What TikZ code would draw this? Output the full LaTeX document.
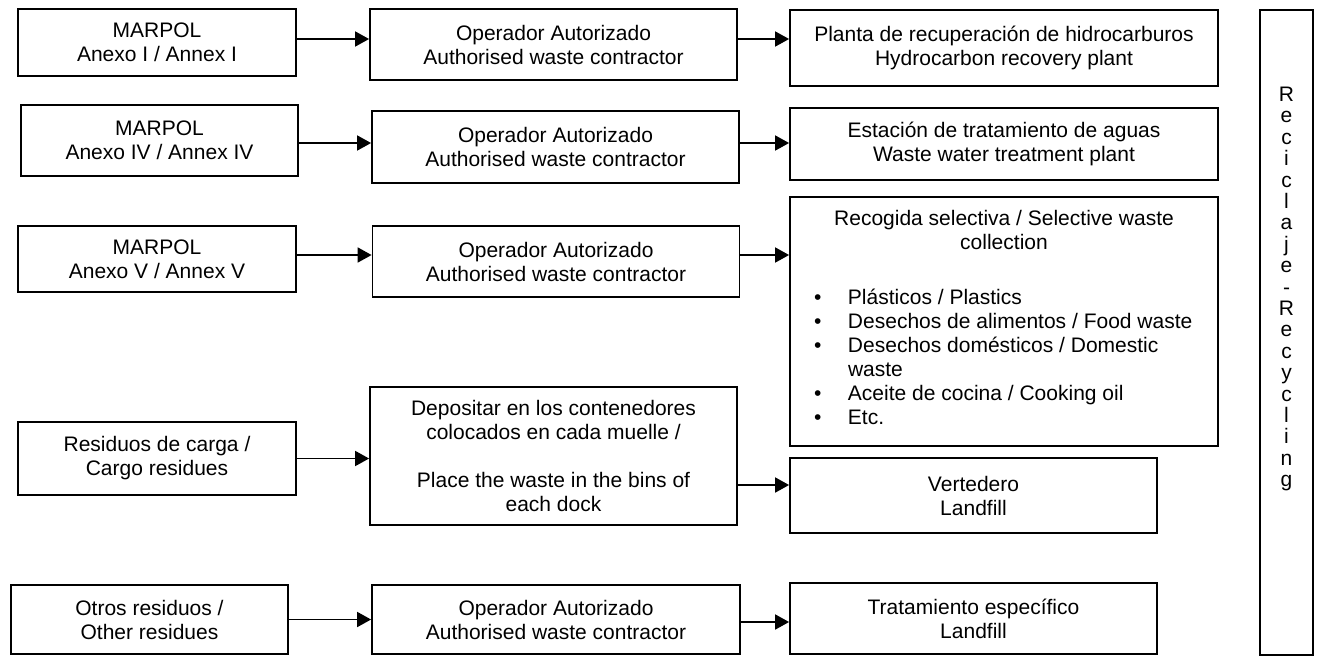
\documentclass[tikz,border=0pt]{standalone}
\usepackage{fontspec}
\setmainfont{Liberation Sans}
\usetikzlibrary{arrows.meta}

\newcommand{\wastesize}{\fontsize{21}{24}\selectfont}
\newcommand{\wasteitem}[1]{\par\hangindent=58pt\hangafter=1\noindent\makebox[58pt][l]{\hspace{24pt}\textbullet}#1}

\begin{document}
\begin{tikzpicture}[x=1pt,y=-1pt,
    box/.style={draw, line width=1.8pt, inner sep=0pt, align=center, font=\wastesize},
    arr/.style={line width=1.8pt, -{Triangle[length=14pt,width=15pt]}}]
    \useasboundingbox (0,0) rectangle (1317,656);

    % waste types
    \node[box, minimum width=278, minimum height=67] (annexI) at (157,42.5) {MARPOL\\Anexo I / Annex I};
    \node[box, minimum width=277, minimum height=71] (annexIV) at (159.5,140.5) {MARPOL\\Anexo IV / Annex IV};
    \node[box, minimum width=278, minimum height=66] (annexV) at (157,259) {MARPOL\\Anexo V / Annex V};
    \node[box, minimum width=278, minimum height=73] (cargo) at (157,458.5) {Residuos de carga /\\Cargo residues};
    \node[box, minimum width=277, minimum height=69] (others) at (149.5,619.5) {Otros residuos /\\Other residues};

    % contractors
    \node[box, minimum width=367, minimum height=71] (contrI) at (553.5,44.5) {Operador Autorizado\\Authorised waste contractor};
    \node[box, minimum width=367, minimum height=72] (contrIV) at (555.5,147) {Operador Autorizado\\Authorised waste contractor};
    \node[box, minimum width=367, minimum height=71] (contrV) at (556,261.5) {Operador Autorizado\\Authorised waste contractor};
    \node[box, minimum width=367, minimum height=138] (bins) at (553.5,456) {Depositar en los contenedores\\colocados en cada muelle /\\[24pt]Place the waste in the bins of\\each dock};
    \node[box, minimum width=368, minimum height=69] (contrO) at (556,619.5) {Operador Autorizado\\Authorised waste contractor};

    % destinations
    \node[box, minimum width=428, minimum height=76] (hydro) at (1004,48) {Planta de recuperación de hidrocarburos\\Hydrocarbon recovery plant};
    \node[box, minimum width=428, minimum height=72] (water) at (1004,144) {Estación de tratamiento de aguas\\Waste water treatment plant};
    \node[box] (select) at (1004,321.5) {\parbox[c][249pt][t]{428pt}{\parskip=0pt\vspace*{13pt}\centering
        Recogida selectiva / Selective waste\\collection\par\vspace{31pt}\raggedright
        \wasteitem{Plásticos / Plastics}
        \wasteitem{Desechos de alimentos / Food waste}
        \wasteitem{Desechos domésticos / Domestic\newline waste}
        \wasteitem{Aceite de cocina / Cooking oil}
        \wasteitem{Etc.}\par}};
    \node[box, minimum width=367, minimum height=75] (landfill) at (973.5,495.5) {Vertedero\\Landfill};
    \node[box, minimum width=367, minimum height=71] (specific) at (973.5,618.5) {Tratamiento específico\\Landfill};

    % recycling column
    \node[box] (recycle) at (1286.5,332.5) {\parbox[c][645pt][t]{53pt}{\centering\baselineskip=21.4pt\vspace*{77pt}
        R\\e\\c\\i\\c\\l\\a\\j\\e\\-\\R\\e\\c\\y\\c\\l\\i\\n\\g\par}};

    % arrows
    \draw[arr] ([yshift=3.5pt]annexI.east) -- ([yshift=3.5pt]annexI.east -| contrI.west);
    \draw[arr] ([yshift=5.5pt]contrI.east) -- ([yshift=5.5pt]contrI.east -| hydro.west);
    \draw[arr] ([yshift=-2.5pt]annexIV.east) -- ([yshift=-2.5pt]annexIV.east -| contrIV.west);
    \draw[arr] ([yshift=4pt]contrIV.east) -- ([yshift=4pt]contrIV.east -| water.west);
    \draw[arr] ([yshift=4pt]annexV.east) -- ([yshift=4pt]annexV.east -| contrV.west);
    \draw[arr] ([yshift=6.5pt]contrV.east) -- ([yshift=6.5pt]contrV.east -| select.west);
    \draw[arr] (cargo.east) -- (cargo.east -| bins.west);
    \draw[arr] ([yshift=-29pt]bins.east) -- ([yshift=-29pt]bins.east -| landfill.west);
    \draw[arr] (others.east) -- (others.east -| contrO.west);
    \draw[arr] ([yshift=-2.5pt]contrO.east) -- ([yshift=-2.5pt]contrO.east -| specific.west);
\end{tikzpicture}
\end{document}
